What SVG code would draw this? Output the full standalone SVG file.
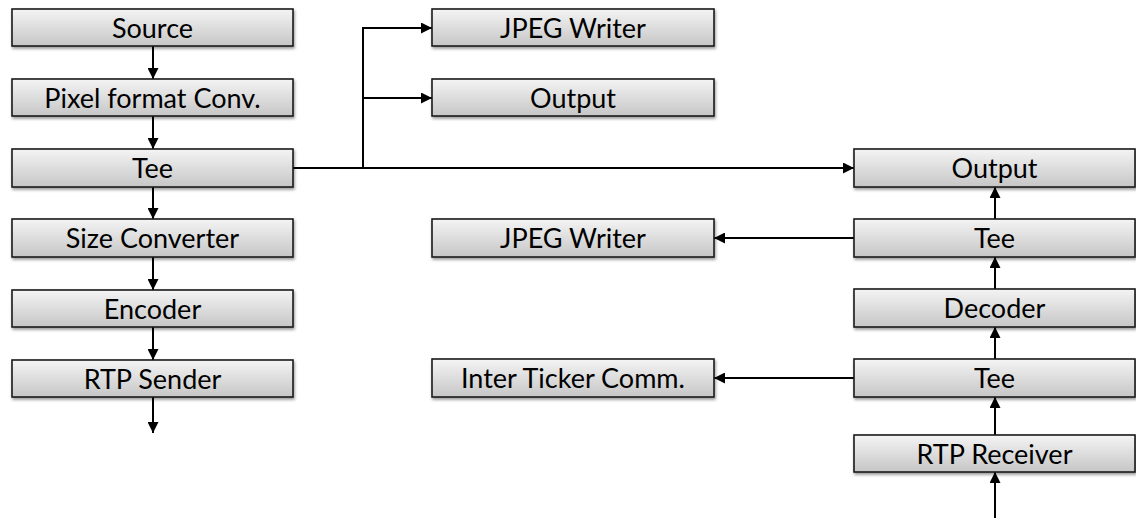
<svg xmlns="http://www.w3.org/2000/svg" width="1136" height="518" viewBox="0 0 1136 518">
  <defs>
    <linearGradient id="boxFill" x1="0" y1="0" x2="0" y2="1">
      <stop offset="0" stop-color="#f4f4f4"/>
      <stop offset="1" stop-color="#c6c6c6"/>
    </linearGradient>
    <filter id="shadow" x="-5%" y="-30%" width="110%" height="170%">
      <feDropShadow dx="1" dy="2" stdDeviation="1.5" flood-color="#000" flood-opacity="0.4"/>
    </filter>
    <marker id="arrow" viewBox="0 0 10 10" refX="10" refY="5" markerWidth="11" markerHeight="11" markerUnits="userSpaceOnUse" orient="auto">
      <path d="M0,0 L10,5 L0,10 Z" fill="#000"/>
    </marker>
  </defs>
  <style>
    .box { fill: url(#boxFill); stroke: #1a1a1a; stroke-width: 1.6; filter: url(#shadow); }
    .label { font-family: Lato, "Open Sans", "Liberation Sans", sans-serif; font-size: 27px; fill: #000; text-anchor: middle; }
    .link { fill: none; stroke: #000; stroke-width: 2; }
    .arrowed { marker-end: url(#arrow); }
  </style>

  <!-- connectors -->
  <g id="connectors">
    <!-- sender chain -->
    <path class="link arrowed" d="M153,46 V79"/>
    <path class="link arrowed" d="M153,116 V149"/>
    <path class="link arrowed" d="M153,187 V219"/>
    <path class="link arrowed" d="M153,257 V290"/>
    <path class="link arrowed" d="M153,327 V360"/>
    <path class="link arrowed" d="M153,397 V433"/>
    <!-- tee branches -->
    <path class="link arrowed" d="M293,168 H363 V28 H432"/>
    <path class="link arrowed" d="M363,98 H432"/>
    <path class="link arrowed" d="M293,168 H854"/>
    <!-- receiver chain -->
    <path class="link arrowed" d="M995,518 V472"/>
    <path class="link arrowed" d="M995,435 V397"/>
    <path class="link arrowed" d="M995,359 V327"/>
    <path class="link arrowed" d="M995,289 V257"/>
    <path class="link arrowed" d="M995,219 V187"/>
    <path class="link arrowed" d="M854,378 H714"/>
    <path class="link arrowed" d="M854,238 H714"/>
  </g>

  <!-- sender pipeline -->
  <g id="source"><rect class="box" x="12" y="9" width="281" height="37"/><text class="label" x="152.5" y="37.5">Source</text></g>
  <g id="pixel-format-conv"><rect class="box" x="12" y="79" width="281" height="37"/><text class="label" x="152.5" y="107.5">Pixel format Conv.</text></g>
  <g id="tee-sender"><rect class="box" x="12" y="149" width="281" height="38"/><text class="label" x="152.5" y="177.5">Tee</text></g>
  <g id="size-converter"><rect class="box" x="12" y="219" width="281" height="38"/><text class="label" x="152.5" y="247.5">Size Converter</text></g>
  <g id="encoder"><rect class="box" x="12" y="290" width="281" height="37"/><text class="label" x="152.5" y="318.5">Encoder</text></g>
  <g id="rtp-sender"><rect class="box" x="12" y="360" width="281" height="37"/><text class="label" x="152.5" y="388.5">RTP Sender</text></g>

  <!-- tee outputs -->
  <g id="jpeg-writer-1"><rect class="box" x="432" y="9" width="282" height="37"/><text class="label" x="573" y="37.5">JPEG Writer</text></g>
  <g id="output-1"><rect class="box" x="432" y="79" width="282" height="37"/><text class="label" x="573" y="107.5">Output</text></g>

  <!-- receiver pipeline -->
  <g id="output-2"><rect class="box" x="854" y="149" width="281" height="38"/><text class="label" x="994.5" y="177.5">Output</text></g>
  <g id="tee-receiver-1"><rect class="box" x="854" y="219" width="281" height="38"/><text class="label" x="994.5" y="247.5">Tee</text></g>
  <g id="decoder"><rect class="box" x="854" y="289" width="281" height="38"/><text class="label" x="994.5" y="317.5">Decoder</text></g>
  <g id="tee-receiver-2"><rect class="box" x="854" y="359" width="281" height="38"/><text class="label" x="994.5" y="387.5">Tee</text></g>
  <g id="rtp-receiver"><rect class="box" x="854" y="435" width="281" height="37"/><text class="label" x="994.5" y="463.5">RTP Receiver</text></g>

  <g id="jpeg-writer-2"><rect class="box" x="432" y="219" width="282" height="38"/><text class="label" x="573" y="247.5">JPEG Writer</text></g>
  <g id="inter-ticker-comm"><rect class="box" x="432" y="359" width="282" height="38"/><text class="label" x="573" y="387.5">Inter Ticker Comm.</text></g>
</svg>
